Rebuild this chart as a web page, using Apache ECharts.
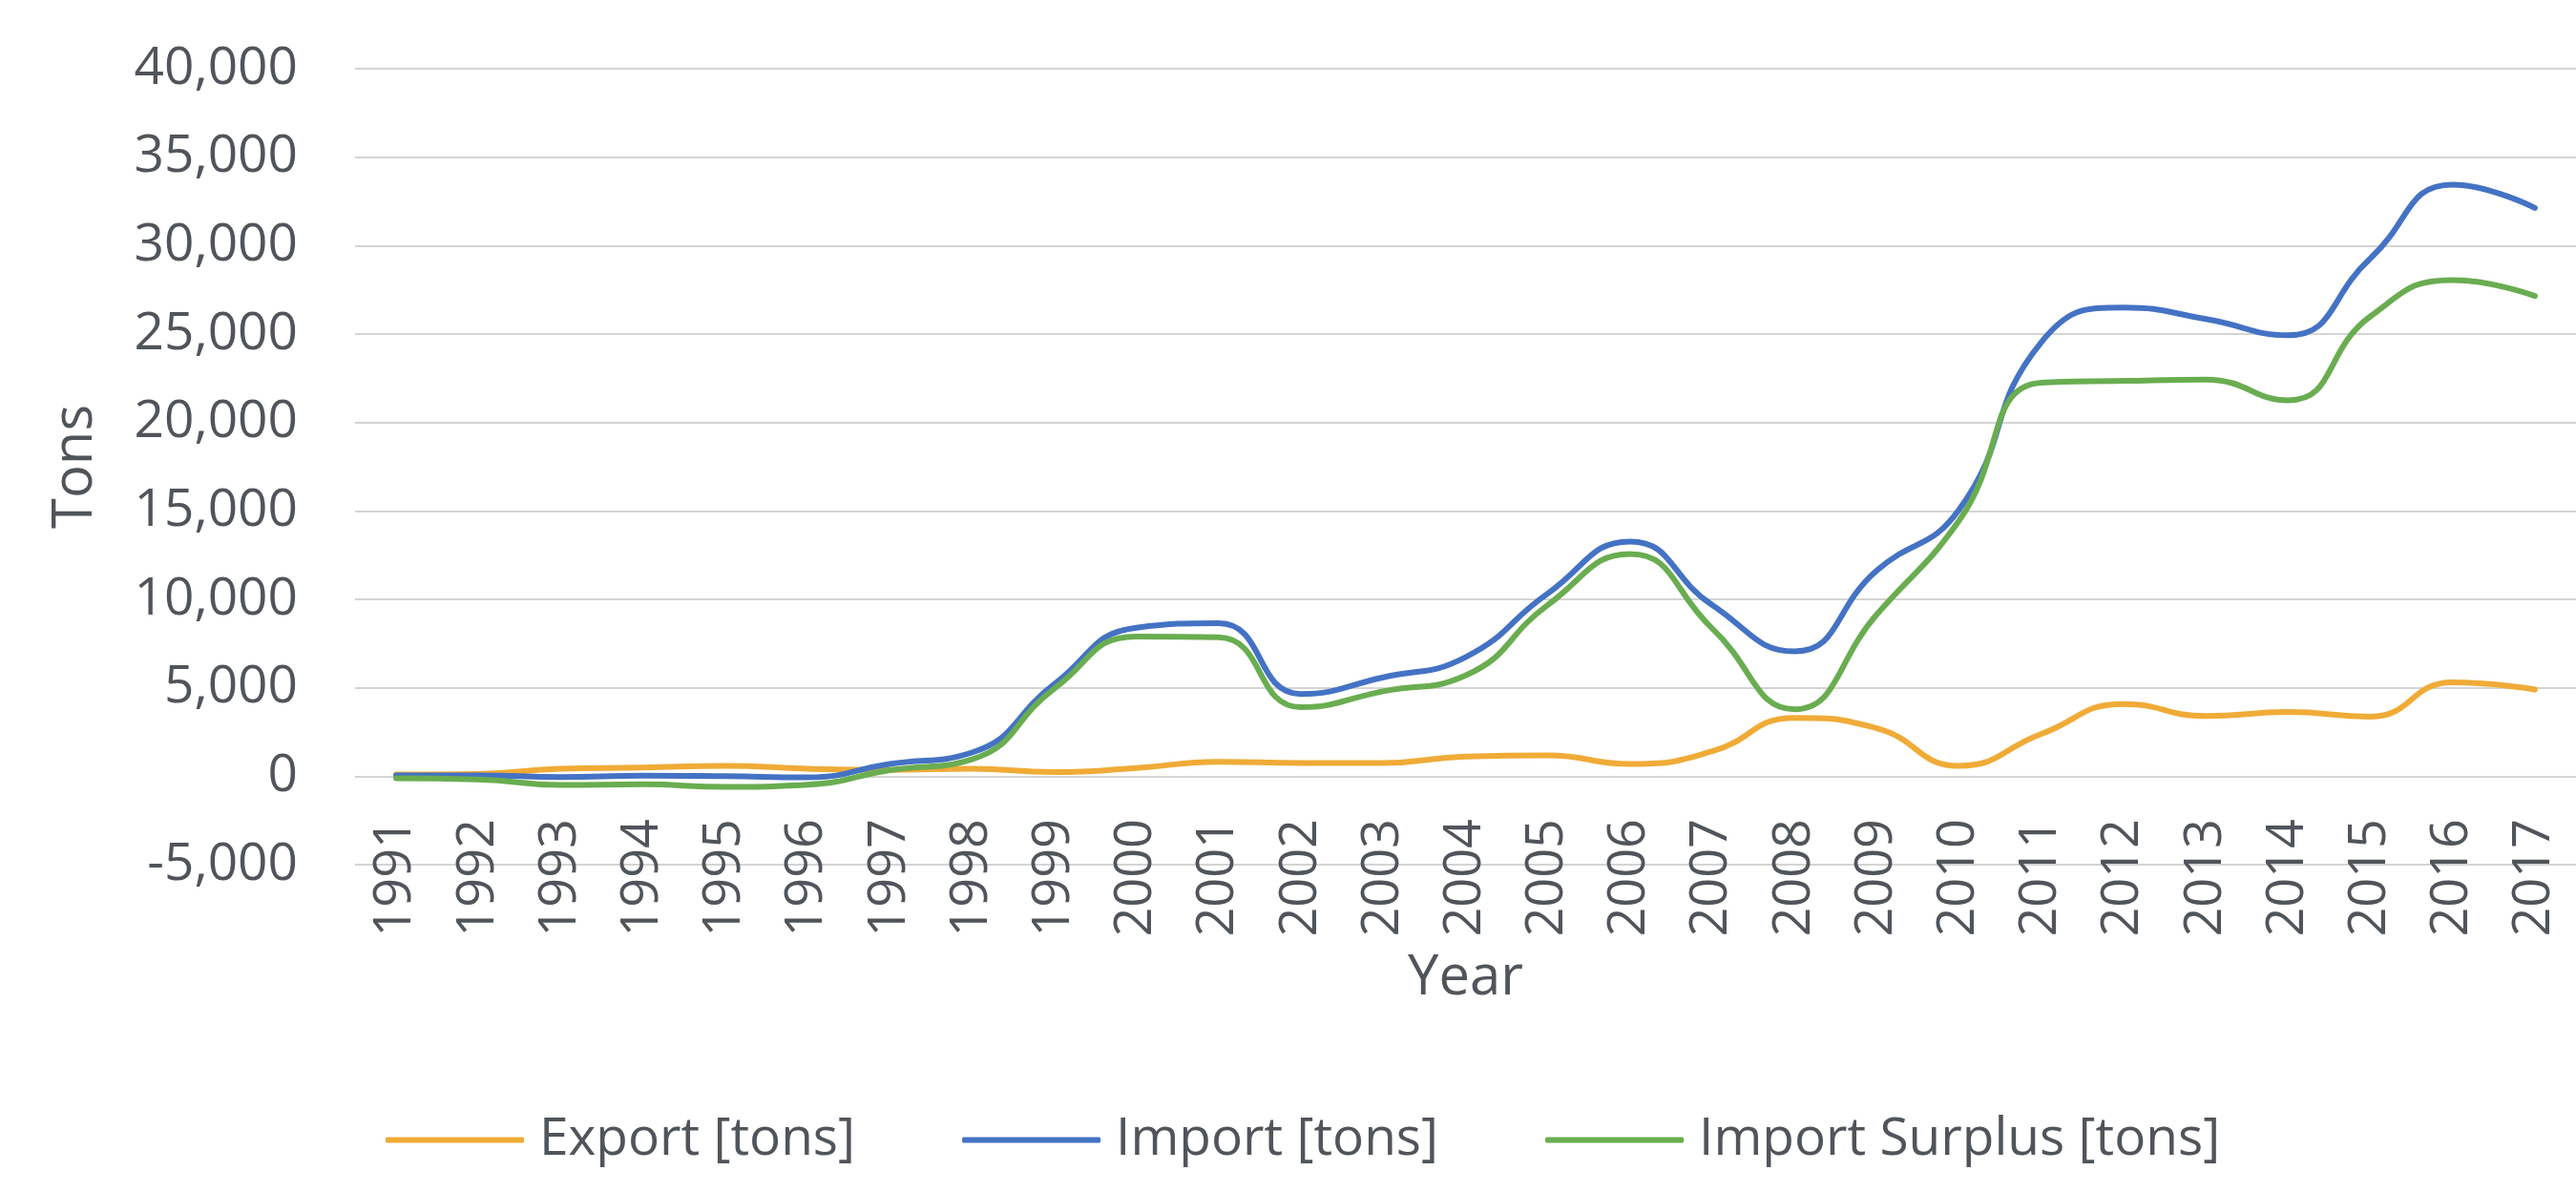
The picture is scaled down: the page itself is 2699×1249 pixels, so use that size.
<!DOCTYPE html>
<html lang="en">
<head>
    <meta charset="UTF-8">
    <title>Export / Import</title>
    <style>
        html, body { margin: 0; padding: 0; background: #ffffff; }
        #main { width: 2699px; height: 1249px; }
    </style>
</head>
<body>
    <div id="main"></div>
    <script src="https://cdn.jsdelivr.net/npm/echarts/dist/echarts.min.js"></script>
    <script>
        // data
        var years = ['1991', '1992', '1993', '1994', '1995', '1996', '1997', '1998', '1999', '2000',
            '2001', '2002', '2003', '2004', '2005', '2006', '2007', '2008', '2009', '2010',
            '2011', '2012', '2013', '2014', '2015', '2016', '2017'];
        var exportTons = [100, 130, 420, 490, 590, 420, 360, 420, 230, 460,
            820, 750, 750, 1110, 1180, 690, 1410, 3300, 2710, 590,
            2390, 4080, 3400, 3630, 3370, 5300, 4900];
        var importTons = [50, 50, -50, 30, 0, -60, 690, 1340, 5200, 8400,
            8650, 4650, 5590, 6730, 10330, 13270, 9670, 7060, 11630, 15070,
            24540, 26500, 25850, 24930, 29280, 33450, 32130];
        var surplusTons = [-120, -180, -500, -460, -600, -480, 340, 960, 4950, 7900,
            7850, 3900, 4800, 5700, 9680, 12560, 8350, 3780, 9150, 14450,
            22250, 22350, 22420, 21250, 26000, 28050, 27150];
        var seriesNames = ['Export [tons]', 'Import [tons]', 'Import Surplus [tons]'];

        var textColor = '#50555b';
        var gridColor = '#d4d4d4';
        var font = '"Open Sans", "Liberation Sans", sans-serif';

        var myChart = echarts.init(document.getElementById('main'));

        function lineSeries(name, data, color) {
            return {
                name: name,
                type: 'line',
                smooth: 0.5,
                symbol: 'none',
                showSymbol: false,
                data: data,
                itemStyle: { color: color },
                lineStyle: { color: color, width: 6, cap: 'round' }
            };
        }

        var option = {
            animation: false,
            textStyle: { fontFamily: font },
            grid: {
                left: 372,
                right: -7,
                top: 72,
                bottom: 343
            },
            legend: {
                left: 399,
                top: 1162,
                icon: 'roundRect',
                itemWidth: 145,
                itemHeight: 6,
                itemGap: 112,
                textStyle: { color: textColor, fontSize: 55, fontFamily: font, padding: [0, 0, 0, 11] },
                data: seriesNames
            },
            xAxis: {
                type: 'category',
                data: years,
                boundaryGap: true,
                position: 'bottom',
                name: 'Year',
                nameLocation: 'middle',
                nameGap: 90,
                nameTextStyle: { color: textColor, fontSize: 58, fontFamily: font },
                axisLine: { show: false, onZero: false },
                axisTick: { show: false },
                axisLabel: {
                    rotate: 90,
                    margin: -48,
                    interval: 0,
                    color: textColor,
                    fontSize: 54,
                    fontFamily: font
                }
            },
            yAxis: {
                type: 'value',
                min: -5000,
                max: 40000,
                interval: 5000,
                name: 'Tons',
                nameLocation: 'middle',
                nameGap: 264,
                nameTextStyle: { color: textColor, fontSize: 58, fontFamily: font },
                axisLine: { show: false },
                axisTick: { show: false },
                splitLine: { lineStyle: { color: gridColor, width: 2 } },
                axisLabel: {
                    margin: 60,
                    color: textColor,
                    fontSize: 55,
                    fontFamily: font,
                    formatter: function (v) { return v.toLocaleString('en-US'); }
                }
            },
            series: [
                lineSeries(seriesNames[0], exportTons, '#f0ab37'),
                lineSeries(seriesNames[1], importTons, '#4472c4'),
                lineSeries(seriesNames[2], surplusTons, '#69ad50')
            ]
        };

        myChart.setOption(option);
    </script>
</body>
</html>
